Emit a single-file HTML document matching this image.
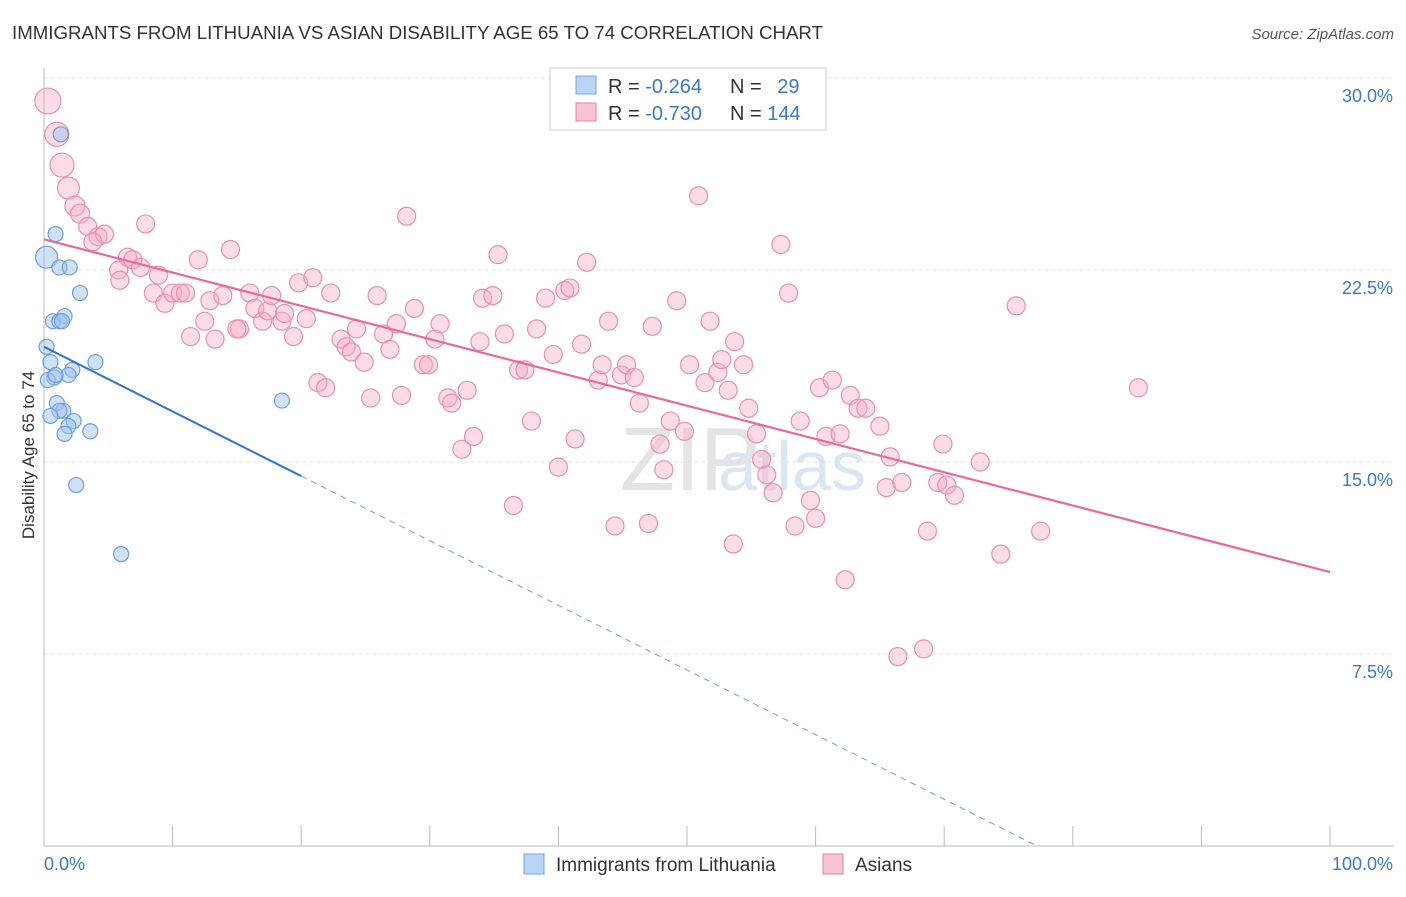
<!DOCTYPE html>
<html><head><meta charset="utf-8"><style>
body{margin:0;background:#fff;font-family:"Liberation Sans",sans-serif;}
svg text{font-family:"Liberation Sans",sans-serif;}
</style></head><body>
<svg id="chart" width="1406" height="892">
<text x="12" y="39" font-size="18" fill="#333" textLength="811" lengthAdjust="spacingAndGlyphs">IMMIGRANTS FROM LITHUANIA VS ASIAN DISABILITY AGE 65 TO 74 CORRELATION CHART</text>
<text x="1394" y="39" font-size="15" fill="#555" font-style="italic" text-anchor="end">Source: ZipAtlas.com</text>
<text x="34" y="455" font-size="17" fill="#333" text-anchor="middle" transform="rotate(-90 34 455)">Disability Age 65 to 74</text>
<text x="620" y="490" font-size="90" fill="#e4e4e4" font-family="Liberation Serif">ZIP</text>
<text x="718" y="490" font-size="70" fill="#dbe6f5">atlas</text>
<g id="grid"></g><g id="axes"></g><g id="marks"></g><g id="lines"></g>
<g>
<rect x="550" y="68" width="276" height="62" fill="#fff" stroke="#ccc"/>
<rect x="576" y="76" width="20" height="18" fill="#b9d4f5" stroke="#7aa6e0"/>
<rect x="576" y="103" width="20" height="18" fill="#f9c4d4" stroke="#e87fa3"/>
<text x="608" y="93" font-size="20" fill="#333">R = <tspan fill="#3a78d4">-0.264</tspan></text>
<text x="730" y="93" font-size="20" fill="#333">N = <tspan fill="#3a78d4" dx="10">29</tspan></text>
<text x="608" y="120" font-size="20" fill="#333">R = <tspan fill="#3a78d4">-0.730</tspan></text>
<text x="730" y="120" font-size="20" fill="#333">N = <tspan fill="#3a78d4">144</tspan></text>
</g>
<g>
<rect x="524" y="854" width="20" height="20" fill="#b9d4f5" stroke="#7aa6e0"/>
<text x="556" y="871" font-size="19" fill="#333">Immigrants from Lithuania</text>
<rect x="823" y="854" width="20" height="20" fill="#f9c4d4" stroke="#e87fa3"/>
<text x="855" y="871" font-size="19" fill="#333">Asians</text>
</g>
</svg>
<script>
const yTicks=[7.5,15,22.5,30];
const yTickLabels=["7.5%","15.0%","22.5%","30.0%"];
const xTickCount=10;
const blueX=[1.3,0.9,0.2,1.2,2.0,2.8,0.7,1.2,1.6,0.2,4.0,0.5,2.2,1.9,0.8,1.0,1.5,1.2,2.3,1.9,3.6,1.6,0.5,18.5,2.5,6.0,0.3,1.4,0.9];
const blueY=[27.8,23.9,23.0,22.6,22.6,21.6,20.5,20.5,20.7,19.5,18.9,18.9,18.6,18.4,18.3,17.3,17.0,17.0,16.6,16.4,16.2,16.1,16.8,17.4,14.1,11.4,18.2,20.5,18.4];
const pinkX=[0.3,1.0,1.4,1.9,2.4,2.8,3.4,4.2,4.7,3.8,7.9,5.8,6.5,6.9,7.5,5.9,8.9,8.5,9.4,10.0,10.6,11.0,12.0,11.4,12.5,12.9,13.3,13.9,14.5,15.2,15.0,16.0,16.4,17.0,17.4,17.7,18.5,18.7,19.4,19.8,20.4,20.9,21.3,21.9,22.3,23.1,23.5,23.9,24.3,24.9,25.4,25.9,26.4,26.9,27.4,27.8,28.2,28.8,29.5,29.9,30.4,30.8,31.4,31.7,32.5,32.9,33.4,33.9,34.1,34.9,35.3,35.8,36.5,36.9,37.4,37.9,38.3,39.0,39.6,40.0,40.5,40.9,41.3,41.8,42.2,43.1,43.4,43.9,44.4,44.9,45.3,45.9,46.3,47.0,47.3,47.9,48.2,48.7,49.2,49.8,50.2,50.9,51.4,51.8,52.4,52.7,53.2,53.6,53.7,54.4,54.8,55.4,55.8,56.2,56.7,57.3,57.9,58.4,58.8,59.6,60.0,60.3,60.8,61.3,61.9,62.3,62.7,63.3,63.9,65.0,65.5,65.8,66.4,66.7,68.4,68.7,69.5,69.9,70.2,70.8,72.8,74.4,75.6,77.5,85.1];
const pinkY=[29.1,27.8,26.6,25.7,25.0,24.7,24.2,23.8,23.9,23.6,24.3,22.5,23.0,22.9,22.6,22.1,22.3,21.6,21.2,21.6,21.6,21.6,22.9,19.9,20.5,21.3,19.8,21.5,23.3,20.2,20.2,21.6,21.0,20.5,20.9,21.5,20.5,20.8,19.9,22.0,20.6,22.2,18.1,17.9,21.6,19.8,19.5,19.3,20.2,18.9,17.5,21.5,20.0,19.4,20.4,17.6,24.6,21.0,18.8,18.8,19.8,20.4,17.5,17.3,15.5,17.8,16.0,19.7,21.4,21.5,23.1,20.0,13.3,18.6,18.6,16.6,20.2,21.4,19.2,14.8,21.7,21.8,15.9,19.6,22.8,18.2,18.8,20.5,12.5,18.4,18.8,18.3,17.3,12.6,20.3,15.7,14.7,16.6,21.3,16.2,18.8,25.4,18.1,20.5,18.5,19.0,17.8,11.8,19.7,18.8,17.1,16.1,15.1,14.5,13.8,23.5,21.6,12.5,16.6,13.5,12.8,17.9,16.0,18.2,16.1,10.4,17.6,17.1,17.1,16.4,14.0,15.2,7.4,14.2,7.7,12.3,14.2,15.7,14.1,13.7,15.0,11.4,21.1,12.3,17.9];
const pinkBigR=[13,12,12,11,10,9.5];
const blueTrend=[0,19.5,20,14.45];
const pinkTrend=[0,23.7,100,10.7];
const NS='http://www.w3.org/2000/svg';
const sx=v=>44+v*12.86, sy=v=>846-v*25.6;
function mk(tag,attrs,parent){const e=document.createElementNS(NS,tag);for(const k in attrs)e.setAttribute(k,attrs[k]);document.getElementById(parent).appendChild(e);return e;}
yTicks.forEach((t,i)=>{
 const g=mk('line',{x1:44,x2:1394,y1:sy(t),y2:sy(t),stroke:'#ddd','stroke-dasharray':'3,4'},'grid');
 
 
 const tx=mk('text',{x:1393,y:sy(t)+24,'font-size':18,fill:'#3a78d4','text-anchor':'end'},'axes');
 tx.textContent=yTickLabels[i];
 
 
});
const ax=mk('line',{x1:44,x2:44,y1:68,y2:846,stroke:'#bbb'},'axes');


const bx=mk('line',{x1:44,x2:1394,y1:846,y2:846,stroke:'#bbb'},'axes');


for(let i=0;i<=xTickCount;i++){
 const t=mk('line',{x1:sx(i*10),x2:sx(i*10),y1:826,y2:846,stroke:'#bbb'},'axes');
 
 
}
const xl0=mk('text',{x:44,y:870,'font-size':18,fill:'#3a78d4'},'axes');xl0.textContent='0.0%';


const xl1=mk('text',{x:1393,y:870,'font-size':18,fill:'#3a78d4','text-anchor':'end'},'axes');xl1.textContent='100.0%';


pinkX.forEach((x,i)=>{
 const c=mk('circle',{cx:sx(x),cy:sy(pinkY[i]),r:pinkBigR[i]||9,fill:'rgba(247,170,195,0.4)',stroke:'#eb8fb0','stroke-width':1.2},'marks');
 
 
});
blueX.forEach((x,i)=>{
 const c=mk('circle',{cx:sx(x),cy:sy(blueY[i]),r:i==2?11:7.5,fill:'rgba(160,196,240,0.5)',stroke:'#6d9fe0','stroke-width':1.2},'marks');
 
 
});
const bl=mk('line',{x1:sx(blueTrend[0]),y1:sy(blueTrend[1]),x2:sx(blueTrend[2]),y2:sy(blueTrend[3]),stroke:'#2f74d0','stroke-width':2},'lines');


const slope=(blueTrend[3]-blueTrend[1])/(blueTrend[2]-blueTrend[0]);
const xEnd=blueTrend[0]-blueTrend[1]/slope;
const bd=mk('line',{x1:sx(blueTrend[2]),y1:sy(blueTrend[3]),x2:sx(xEnd),y2:sy(0),stroke:'#6d9fe0','stroke-width':1,'stroke-dasharray':'6,5'},'lines');


const pl=mk('line',{x1:sx(pinkTrend[0]),y1:sy(pinkTrend[1]),x2:sx(pinkTrend[2]),y2:sy(pinkTrend[3]),stroke:'#e8699a','stroke-width':2.2},'lines');


</script>
</body></html>
